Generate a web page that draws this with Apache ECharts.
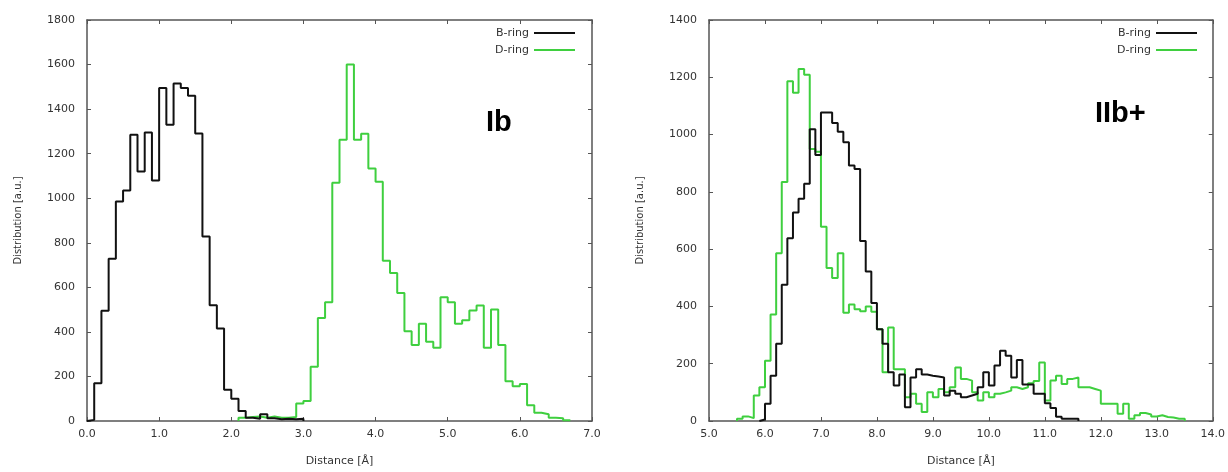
<!DOCTYPE html>
<html>
<head>
<meta charset="utf-8">
<script src="https://cdn.jsdelivr.net/npm/echarts@6/dist/echarts.min.js"></script>
<style>
html,body{margin:0;padding:0;background:#fff;}
#chart{width:1228px;height:472px;}
</style>
</head>
<body>
<div id="chart"></div>
<script>
// ---- Data (histogram bins of width 0.1 Å) ----
const binWidth = 0.1;

// Panel Ib
const ibBStart = 0.0;
const ibBValues = [5, 170, 495, 728, 985, 1035, 1285, 1120, 1295, 1080,
                   1495, 1330, 1515, 1495, 1460, 1290, 828, 520, 415, 140,
                   100, 45, 15, 10, 30, 12, 8, 10, 8, 10];
const ibDStart = 2.1;
const ibDValues = [15, 18, 20, 15, 20, 15, 15, 18, 78, 90,
                   244, 462, 533, 1070, 1262, 1600, 1262, 1289, 1133, 1074,
                   719, 664, 575, 403, 341, 437, 356, 329, 556, 533,
                   437, 452, 496, 519, 329, 500, 341, 178, 156, 166,
                   71, 37, 30, 15, 12, 3];

// Panel IIb+
const iibBStart = 5.9;
const iibBValues = [5, 60, 158, 270, 476, 638, 728, 776, 828, 1019,
                    929, 1077, 1077, 1040, 1010, 973, 892, 880, 628, 522,
                    412, 320, 270, 170, 124, 162, 48, 152, 181, 162,
                    158, 155, 152, 89, 106, 95, 83, 89, 95, 118,
                    170, 124, 194, 245, 228, 152, 213, 127, 127, 95,
                    95, 62, 45, 15, 8, 8, 8];
const iibDStart = 5.5;
const iibDValues = [8, 16, 10, 89, 118, 210, 372, 586, 834, 1186,
                    1146, 1229, 1209, 950, 940, 678, 534, 499, 586, 378,
                    407, 390, 383, 400, 381, 320, 170, 326, 181, 181,
                    83, 95, 60, 31, 100, 83, 112, 100, 118, 187,
                    147, 141, 100, 72, 100, 83, 95, 100, 106, 118,
                    112, 118, 132, 140, 204, 72, 141, 158, 129, 147,
                    152, 118, 118, 112, 106, 60, 60, 60, 25, 60,
                    8, 20, 28, 23, 16, 20, 14, 12, 8, 8];

const seriesNames = ['B-ring', 'D-ring'];
const panelLabels = ['Ib', 'IIb+'];
const yAxisName = 'Distribution [a.u.]';
const xAxisName = 'Distance [Å]';

// ---- helpers ----
function histSteps(start, values) {
  const pts = [[start, 0]];
  values.forEach((v, i) => {
    pts.push([Math.round((start + i * binWidth) * 1000) / 1000, v]);
  });
  pts.push([Math.round((start + values.length * binWidth) * 1000) / 1000, 0]);
  return pts;
}

const FONT = 'DejaVu Sans';
const AX = '#555';
const TXT = '#333';
const BLACK = '#111111';
const GREEN = '#3fcf3f';

function xAxes(gi, min, max) {
  const base = {
    type: 'value', gridIndex: gi, min: min, max: max, interval: 1,
    splitLine: {show: false},
    axisLine: {show: true, onZero: false, lineStyle: {color: AX, width: 1.5}},
    axisTick: {show: true, inside: true, length: 4, lineStyle: {color: AX, width: 1}},
  };
  return [
    Object.assign({}, base, {
      position: 'bottom',
      axisLabel: {show: true, margin: 8, color: TXT, fontFamily: FONT, fontSize: 11,
                  formatter: v => v.toFixed(1)},
      name: xAxisName, nameLocation: 'middle', nameGap: 35,
      nameTextStyle: {color: TXT, fontFamily: FONT, fontSize: 11}
    }),
    Object.assign({}, base, {position: 'top', axisLabel: {show: false}})
  ];
}
function yAxes(gi, max) {
  const base = {
    type: 'value', gridIndex: gi, min: 0, max: max, interval: 200,
    splitLine: {show: false},
    axisLine: {show: true, onZero: false, lineStyle: {color: AX, width: 1.5}},
    axisTick: {show: true, inside: true, length: 4, lineStyle: {color: AX, width: 1}},
  };
  return [
    Object.assign({}, base, {
      position: 'left',
      axisLabel: {show: true, margin: 12, color: TXT, fontFamily: FONT, fontSize: 11,
                  formatter: v => String(v)},
      name: yAxisName, nameLocation: 'middle', nameGap: 64, nameRotate: 90,
      nameTextStyle: {color: TXT, fontFamily: FONT, fontSize: 10}
    }),
    Object.assign({}, base, {position: 'right', axisLabel: {show: false}})
  ];
}

function stepSeries(name, color, xi, yi, start, values) {
  return {
    name: name, type: 'line', step: 'end', xAxisIndex: xi, yAxisIndex: yi,
    data: histSteps(start, values), showSymbol: false, symbol: 'none',
    lineStyle: {color: color, width: 2}, itemStyle: {color: color},
    animation: false, silent: true
  };
}

const chart = echarts.init(document.getElementById('chart'), null, {renderer: 'canvas'});
const legendBase = {
  data: seriesNames, orient: 'vertical', icon: 'rect', align: 'right',
  itemWidth: 41, itemHeight: 2, itemGap: 3, selectedMode: false, padding: 0,
  textStyle: {color: TXT, fontFamily: FONT, fontSize: 11, lineHeight: 14}
};
chart.setOption({
  backgroundColor: '#ffffff',
  animation: false,
  grid: [
    {left: 87, top: 20, width: 505, height: 403},
    {left: 709, top: 20, width: 504, height: 404}
  ],
  xAxis: [].concat(xAxes(0, 0, 7), xAxes(1, 5, 14)),
  yAxis: [].concat(yAxes(0, 1800), yAxes(1, 1400)),
  title: [
    {text: panelLabels[0], left: 486, top: 108, padding: 0,
     textStyle: {fontSize: 29, fontWeight: 'bold', color: '#000', fontFamily: 'Liberation Sans'}},
    {text: panelLabels[1], left: 1095, top: 99, padding: 0,
     textStyle: {fontSize: 29, fontWeight: 'bold', color: '#000', fontFamily: 'Liberation Sans'}}
  ],
  legend: [
    Object.assign({}, legendBase, {right: 653, top: 26}),
    Object.assign({}, legendBase, {right: 31, top: 26})
  ],
  series: [
    stepSeries(seriesNames[1], GREEN, 0, 0, ibDStart, ibDValues),
    stepSeries(seriesNames[0], BLACK, 0, 0, ibBStart, ibBValues),
    stepSeries(seriesNames[1], GREEN, 2, 2, iibDStart, iibDValues),
    stepSeries(seriesNames[0], BLACK, 2, 2, iibBStart, iibBValues)
  ]
});
</script>
</body>
</html>
